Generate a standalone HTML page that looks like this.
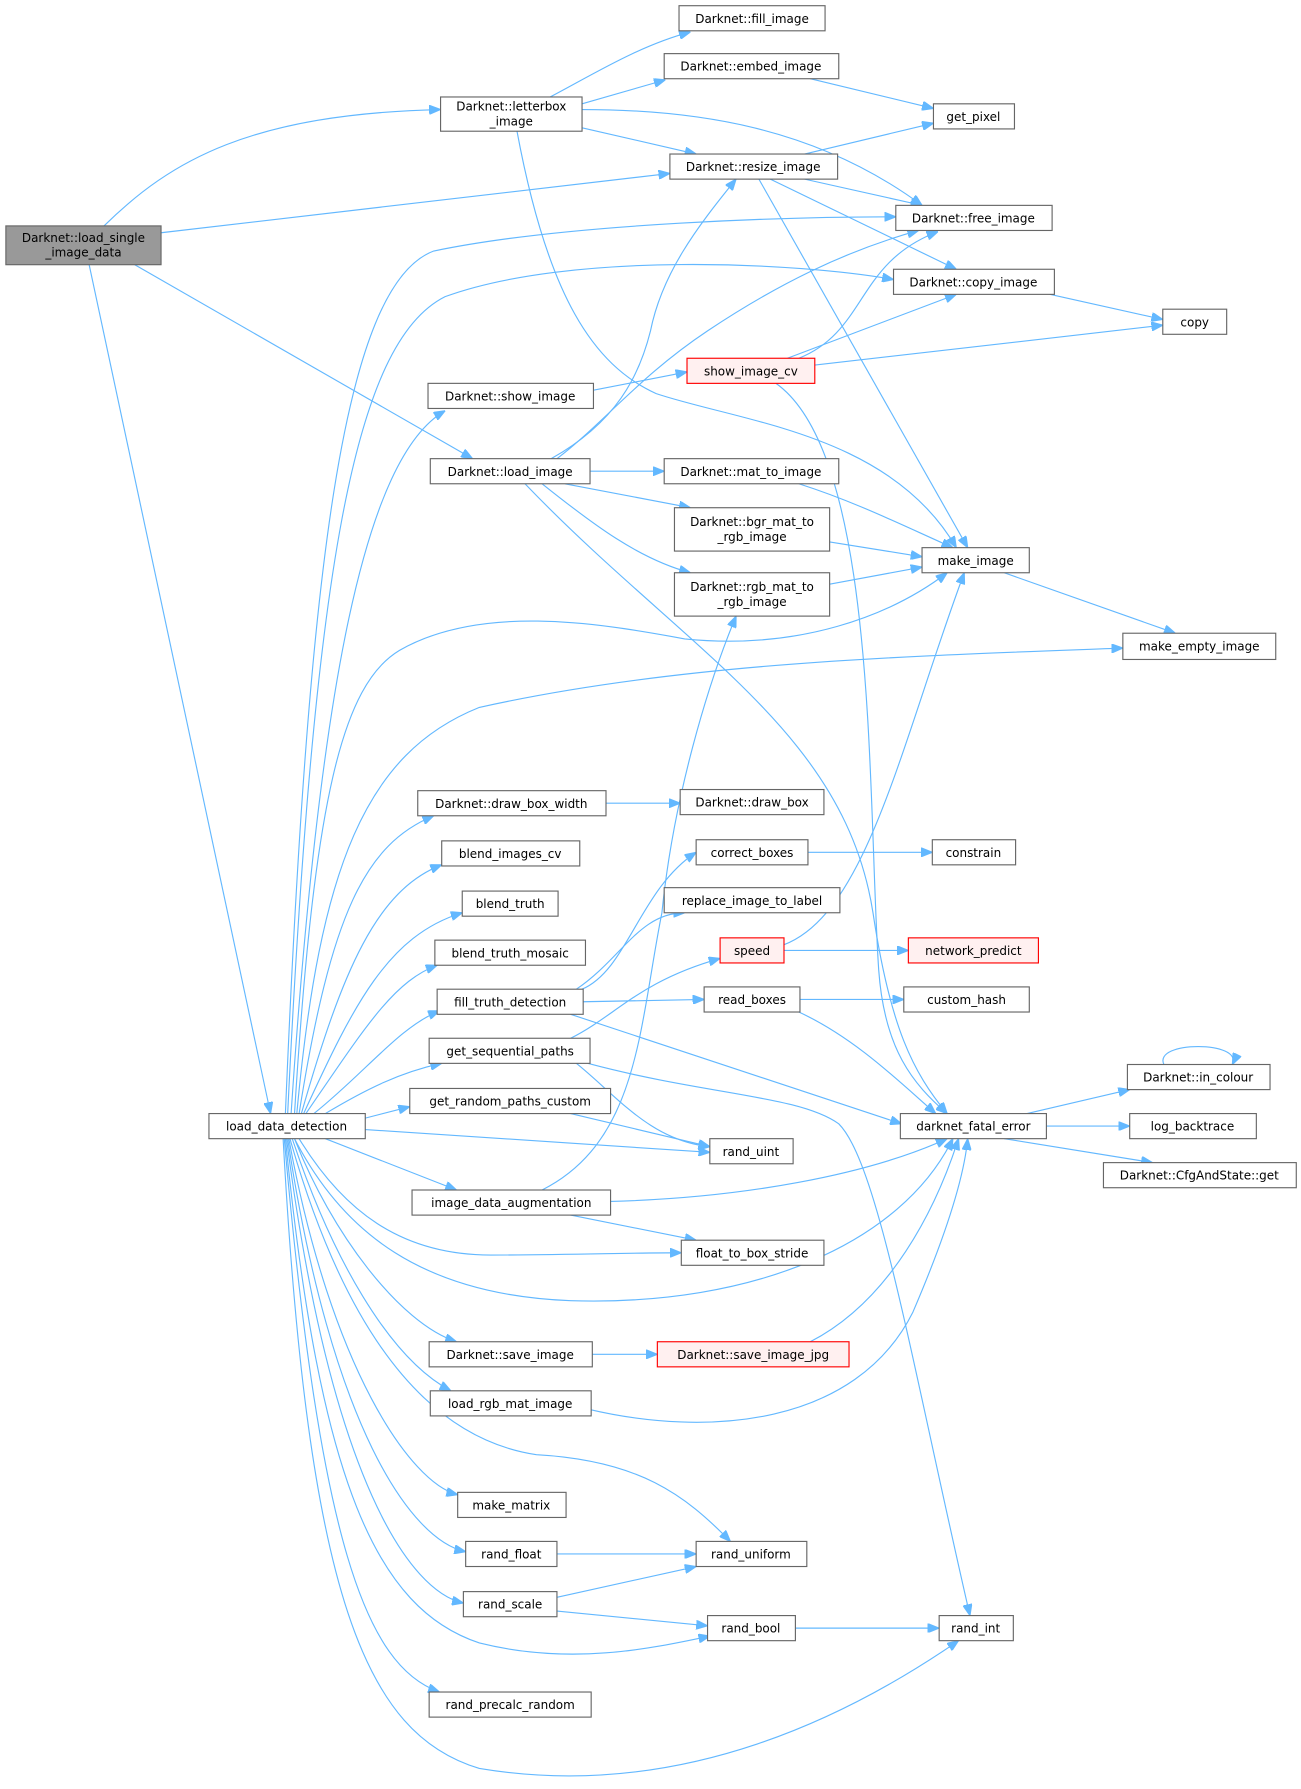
<!DOCTYPE html>
<html><head><meta charset="utf-8"><style>
html,body{margin:0;padding:0;background:#fff;}
svg{display:block}
text{font-family:"DejaVu Sans","Liberation Sans",sans-serif;font-size:10.5px;fill:#000;text-anchor:middle}
.n{fill:#fff;stroke:#666;stroke-width:1}
.r{fill:#fff0f0;stroke:#f00;stroke-width:1}
.g{fill:#999;stroke:#666;stroke-width:1}
path{fill:none;stroke:#63b8ff;stroke-width:1}
</style></head><body>
<svg width="1301" height="1789" viewBox="0 0 1140 1568" xmlns="http://www.w3.org/2000/svg">
<defs><marker id="a" markerWidth="10" markerHeight="8" refX="10" refY="4" orient="auto" markerUnits="userSpaceOnUse"><path d="M0,0 L10,4 L0,8 Z" style="fill:#63b8ff;stroke:#63b8ff"/></marker></defs>
<g marker-end="url(#a)">
<path d="M91,198 C150,140 220,100 386,96"/>
<path d="M141,204 L587,152"/>
<path d="M118,232 L414,402"/>
<path d="M78,232 L237,976"/>
<path d="M482,85 C520,65 560,40 605,28"/>
<path d="M510,91 L583,70"/>
<path d="M510,96 C620,96 720,115 808,180"/>
<path d="M510,112 L610,135"/>
<path d="M453,115 C480,260 520,320 575,345 C650,370 780,380 838,480"/>
<path d="M705,135 L818,108"/>
<path d="M705,157 L808,180"/>
<path d="M675,157 L838,236"/>
<path d="M665,157 L848,480"/>
<path d="M700,314 C760,290 750,230 822,203"/>
<path d="M690,314 L838,258"/>
<path d="M714,320 L1019,285"/>
<path d="M680,336 C770,400 760,700 770,850 C775,920 800,950 830,976"/>
<path d="M517,413 L582,413"/>
<path d="M495,424 L605,445"/>
<path d="M475,424 C520,460 560,490 605,502"/>
<path d="M483,402 C540,370 560,330 570,290 C580,240 610,200 645,157"/>
<path d="M488,402 C530,370 560,330 620,290 C680,250 740,220 805,202"/>
<path d="M460,424 C600,570 740,640 765,800 C780,900 800,940 830,976"/>
<path d="M520,342 L602,326"/>
<path d="M700,424 C750,440 790,460 835,480"/>
<path d="M727,475 L808,488"/>
<path d="M727,512 L808,497"/>
<path d="M880,502 L1030,555"/>
<path d="M920,258 L1019,280"/>
<path d="M710,69 L818,95"/>
<path d="M250,976 C270,500 300,250 380,220 C500,195 700,190 785,190"/>
<path d="M252,976 C275,500 310,300 390,260 C500,220 700,230 783,245"/>
<path d="M255,976 C280,600 320,400 390,360"/>
<path d="M258,976 C275,700 300,600 350,570 C420,530 520,545 600,560 C700,570 780,540 830,502"/>
<path d="M260,976 C280,760 320,660 420,620 C600,580 800,575 984,568"/>
<path d="M262,976 C290,800 320,740 380,715"/>
<path d="M264,976 C300,850 330,780 387,758"/>
<path d="M266,976 C310,880 340,820 405,800"/>
<path d="M268,976 C320,900 345,860 383,846"/>
<path d="M275,976 C320,940 350,900 385,886"/>
<path d="M285,976 C320,955 350,940 387,932"/>
<path d="M320,980 L359,970"/>
<path d="M320,990 L622,1010"/>
<path d="M285,998 L400,1043"/>
<path d="M262,998 C300,1060 350,1100 430,1100 C500,1100 550,1098 597,1098"/>
<path d="M258,998 C300,1080 370,1135 500,1140 C660,1145 790,1090 835,998"/>
<path d="M258,998 C290,1080 350,1160 400,1176"/>
<path d="M256,998 C290,1100 340,1190 395,1219"/>
<path d="M254,998 C300,1160 370,1260 470,1275 C560,1280 600,1310 640,1351"/>
<path d="M253,998 C290,1200 360,1300 401,1310"/>
<path d="M252,998 C290,1250 360,1350 408,1360"/>
<path d="M251,998 C290,1300 360,1395 406,1405"/>
<path d="M250,998 C280,1300 330,1410 420,1440 C500,1460 570,1445 622,1434"/>
<path d="M249,998 C280,1350 320,1460 385,1483"/>
<path d="M248,998 C270,1400 320,1520 420,1550 C600,1580 750,1500 840,1438"/>
<path d="M531,704 L596,704"/>
<path d="M708,747 L817,747"/>
<path d="M687,833 L796,833"/>
<path d="M687,828 C760,800 790,650 845,502"/>
<path d="M510,867 C550,850 560,780 610,747"/>
<path d="M505,867 C545,840 560,800 600,800"/>
<path d="M511,878 L617,876"/>
<path d="M500,889 L790,985"/>
<path d="M701,876 L792,876"/>
<path d="M700,887 C750,910 790,950 820,976"/>
<path d="M500,910 C540,890 560,860 631,840"/>
<path d="M505,932 C540,960 570,1000 622,1005"/>
<path d="M515,932 C620,960 700,960 735,985 C770,1020 800,1200 850,1416"/>
<path d="M500,976 L622,1005"/>
<path d="M475,1043 C560,1000 560,900 580,800 C590,700 620,600 645,540"/>
<path d="M535,1053 C650,1050 760,1030 830,998"/>
<path d="M500,1065 L610,1087"/>
<path d="M519,1187 L576,1187"/>
<path d="M710,1176 C780,1140 820,1060 840,998"/>
<path d="M515,1235 C620,1260 750,1250 800,1150 C830,1080 845,1030 848,998"/>
<path d="M488,1362 L610,1362"/>
<path d="M488,1400 L610,1373"/>
<path d="M488,1412 L620,1425"/>
<path d="M697,1427 L823,1427"/>
<path d="M900,976 L990,955"/>
<path d="M917,987 L990,987"/>
<path d="M880,998 L1010,1019"/>
<path d="M1020,933 C1010,912 1090,912 1080,933"/>
</g>
<rect class="g" x="5" y="198" width="136" height="34"/><text x="73" y="212">Darknet::load_single</text><text x="73" y="225">_image_data</text>
<rect class="n" x="386" y="85" width="124" height="30"/><text x="448" y="97">Darknet::letterbox</text><text x="448" y="110">_image</text>
<rect class="n" x="595" y="5" width="128" height="22"/><text x="659" y="20">Darknet::fill_image</text>
<rect class="n" x="582" y="47" width="153" height="22"/><text x="658" y="62">Darknet::embed_image</text>
<rect class="n" x="818" y="91" width="71" height="22"/><text x="853" y="106">get_pixel</text>
<rect class="n" x="587" y="135" width="147" height="22"/><text x="660" y="150">Darknet::resize_image</text>
<rect class="n" x="785" y="180" width="137" height="22"/><text x="853" y="195">Darknet::free_image</text>
<rect class="n" x="783" y="236" width="141" height="22"/><text x="853" y="251">Darknet::copy_image</text>
<rect class="n" x="1019" y="271" width="56" height="22"/><text x="1047" y="286">copy</text>
<rect class="n" x="375" y="336" width="145" height="22"/><text x="447" y="351">Darknet::show_image</text>
<rect class="r" x="602" y="314" width="112" height="22"/><text x="658" y="329">show_image_cv</text>
<rect class="n" x="377" y="402" width="140" height="22"/><text x="447" y="417">Darknet::load_image</text>
<rect class="n" x="582" y="402" width="153" height="22"/><text x="658" y="417">Darknet::mat_to_image</text>
<rect class="n" x="591" y="445" width="136" height="38"/><text x="659" y="461">Darknet::bgr_mat_to</text><text x="659" y="474">_rgb_image</text>
<rect class="n" x="591" y="502" width="136" height="38"/><text x="659" y="518">Darknet::rgb_mat_to</text><text x="659" y="531">_rgb_image</text>
<rect class="n" x="808" y="480" width="94" height="22"/><text x="855" y="495">make_image</text>
<rect class="n" x="984" y="555" width="134" height="23"/><text x="1051" y="570">make_empty_image</text>
<rect class="n" x="366" y="693" width="165" height="22"/><text x="448" y="708">Darknet::draw_box_width</text>
<rect class="n" x="596" y="692" width="126" height="22"/><text x="659" y="707">Darknet::draw_box</text>
<rect class="n" x="387" y="737" width="121" height="22"/><text x="447" y="752">blend_images_cv</text>
<rect class="n" x="610" y="736" width="98" height="22"/><text x="659" y="751">correct_boxes</text>
<rect class="n" x="817" y="736" width="73" height="22"/><text x="853" y="751">constrain</text>
<rect class="n" x="405" y="781" width="84" height="22"/><text x="447" y="796">blend_truth</text>
<rect class="n" x="582" y="778" width="154" height="22"/><text x="659" y="793">replace_image_to_label</text>
<rect class="r" x="631" y="822" width="56" height="22"/><text x="659" y="837">speed</text>
<rect class="r" x="796" y="822" width="114" height="22"/><text x="853" y="837">network_predict</text>
<rect class="n" x="381" y="824" width="132" height="22"/><text x="447" y="839">blend_truth_mosaic</text>
<rect class="n" x="383" y="867" width="128" height="22"/><text x="447" y="882">fill_truth_detection</text>
<rect class="n" x="617" y="865" width="84" height="22"/><text x="659" y="880">read_boxes</text>
<rect class="n" x="792" y="865" width="110" height="22"/><text x="847" y="880">custom_hash</text>
<rect class="n" x="376" y="910" width="141" height="22"/><text x="447" y="925">get_sequential_paths</text>
<rect class="n" x="988" y="933" width="125" height="22"/><text x="1050" y="948">Darknet::in_colour</text>
<rect class="n" x="183" y="976" width="137" height="22"/><text x="251" y="991">load_data_detection</text>
<rect class="n" x="359" y="954" width="176" height="22"/><text x="447" y="969">get_random_paths_custom</text>
<rect class="n" x="789" y="976" width="128" height="22"/><text x="853" y="991">darknet_fatal_error</text>
<rect class="n" x="990" y="976" width="111" height="22"/><text x="1045" y="991">log_backtrace</text>
<rect class="n" x="967" y="1019" width="169" height="22"/><text x="1051" y="1034">Darknet::CfgAndState::get</text>
<rect class="n" x="622" y="998" width="73" height="22"/><text x="658" y="1013">rand_uint</text>
<rect class="n" x="361" y="1043" width="174" height="22"/><text x="448" y="1058">image_data_augmentation</text>
<rect class="n" x="597" y="1087" width="125" height="22"/><text x="659" y="1102">float_to_box_stride</text>
<rect class="n" x="376" y="1176" width="143" height="22"/><text x="447" y="1191">Darknet::save_image</text>
<rect class="r" x="576" y="1176" width="168" height="22"/><text x="660" y="1191">Darknet::save_image_jpg</text>
<rect class="n" x="377" y="1219" width="141" height="22"/><text x="447" y="1234">load_rgb_mat_image</text>
<rect class="n" x="401" y="1308" width="95" height="22"/><text x="448" y="1323">make_matrix</text>
<rect class="n" x="408" y="1351" width="80" height="22"/><text x="448" y="1366">rand_float</text>
<rect class="n" x="610" y="1351" width="97" height="22"/><text x="658" y="1366">rand_uniform</text>
<rect class="n" x="406" y="1395" width="82" height="22"/><text x="447" y="1410">rand_scale</text>
<rect class="n" x="620" y="1416" width="77" height="22"/><text x="658" y="1431">rand_bool</text>
<rect class="n" x="823" y="1416" width="65" height="22"/><text x="855" y="1431">rand_int</text>
<rect class="n" x="376" y="1483" width="142" height="22"/><text x="447" y="1498">rand_precalc_random</text>
</svg>
</body></html>
